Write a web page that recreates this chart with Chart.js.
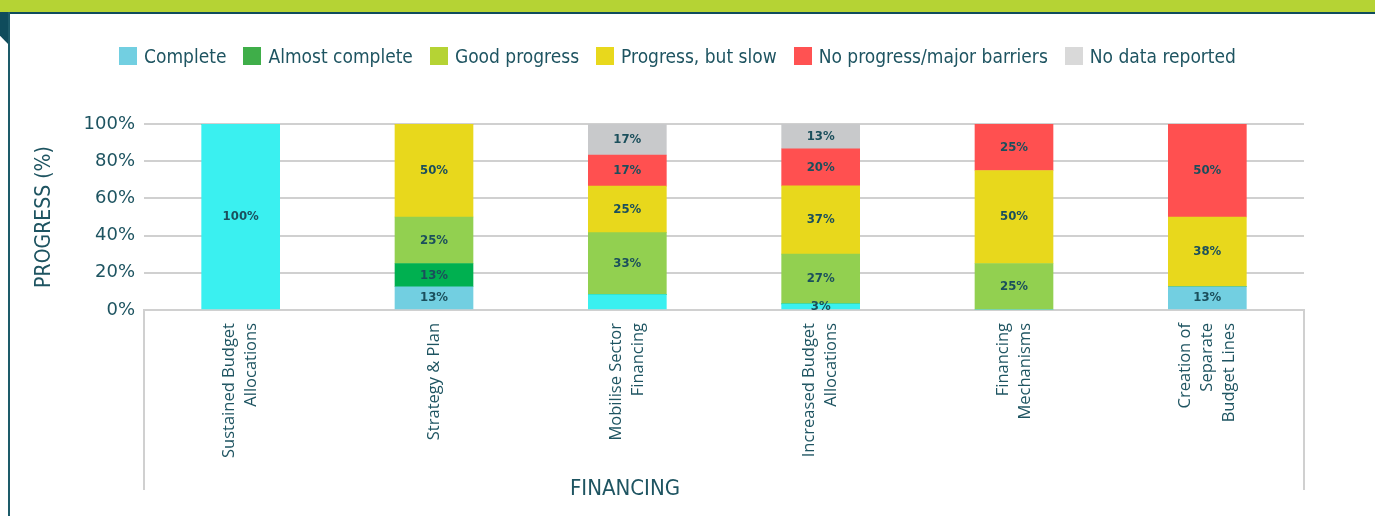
<!DOCTYPE html>
<html>
<head>
<meta charset="utf-8">
<script src="https://cdn.jsdelivr.net/npm/chart.js@4.4.0/dist/chart.umd.min.js"></script>
<style>
  html, body { margin: 0; padding: 0; background: #fff; }
  body { width: 1375px; height: 516px; position: relative; overflow: hidden; }
  .top-band { position: absolute; left: 0; top: 0; width: 100%; height: 12px; background: #b5d334; }
  .top-line { position: absolute; left: 0; top: 12px; width: 100%; height: 2px; background: #0f4c5c; }
  .side-tab { position: absolute; left: 0; top: 12px; width: 10px; height: 34px; background: #0f4c5c;
              clip-path: polygon(0 0, 100% 0, 100% 100%, 0 70%); }
  .side-line { position: absolute; left: 8px; top: 12px; width: 2px; height: 504px; background: #1d5b69; }
  #chart { position: absolute; left: 0; top: 0; }
  #legend-container { position: absolute; left: -10px; top: 45px; width: 1375px; }
</style>
</head>
<body>
<div class="top-band"></div>
<div class="top-line"></div>
<div class="side-tab"></div>
<div class="side-line"></div>
<canvas id="chart" width="1375" height="516"></canvas>
<div id="legend-container"></div>
<script>
  // categories (multi-line labels)
  const categories = [
      ['Sustained Budget', 'Allocations'],
      ['Strategy & Plan'],
      ['Mobilise Sector', 'Financing'],
      ['Increased Budget', 'Allocations'],
      ['Financing', 'Mechanisms'],
      ['Creation of', 'Separate', 'Budget Lines']
  ];
  const groupTitle = 'FINANCING';

  // series values, % of actions
  const complete = [100, 12.5, 8.3, 3.3, 0, 12.5];
  const almostComplete = [0, 12.5, 0, 0, 0, 0];
  const goodProgress = [0, 25, 33.3, 26.7, 25, 0];
  const progressSlow = [0, 50, 25, 36.7, 50, 37.5];
  const noProgress = [0, 0, 16.7, 20, 25, 50];
  const noData = [0, 0, 16.7, 13.3, 0, 0];

  // segments without a value label: [dataset, category]
  const unlabelled = [[0, 2]];

  const seriesNames = ['Complete', 'Almost complete', 'Good progress', 'Progress, but slow', 'No progress/major barriers', 'No data reported'];
  const yTicks = [0, 20, 40, 60, 80, 100];

  const textColor = '#1e5461';
  const gridColor = '#d0d0d0';
  const legendColors = ['#72cfe1', '#3fae49', '#b5d334', '#e8d81c', '#ff5252', '#d9d9d9'];
  const completeColors = ['#3af0f0', '#72cfe1', '#3af0f0', '#3af0f0', '#3af0f0', '#72cfe1'];

  const getOrCreateLegendList = (id) => {
      const legendContainer = document.getElementById(id);
      let listContainer = legendContainer.querySelector('ul');
      if (!listContainer) {
          listContainer = document.createElement('ul');
          listContainer.style.display = 'flex';
          listContainer.style.flexDirection = 'row';
          listContainer.style.justifyContent = 'center';
          listContainer.style.gap = '17px';
          listContainer.style.listStyle = 'none';
          listContainer.style.margin = 0;
          listContainer.style.padding = 0;
          legendContainer.appendChild(listContainer);
      }
      return listContainer;
  };

  const htmlLegend = {
      id: 'htmlLegend',
      afterUpdate(chart, args, options) {
          const ul = getOrCreateLegendList(options.containerID);
          while (ul.firstChild) {
              ul.firstChild.remove();
          }
          seriesNames.forEach((name, i) => {
              const li = document.createElement('li');
              li.style.display = 'flex';
              li.style.alignItems = 'center';

              const boxSpan = document.createElement('span');
              boxSpan.style.background = legendColors[i];
              boxSpan.style.display = 'inline-block';
              boxSpan.style.width = '18px';
              boxSpan.style.height = '18px';
              boxSpan.style.marginRight = '7px';

              const p = document.createElement('p');
              p.style.margin = 0;
              p.style.padding = 0;
              p.style.whiteSpace = 'nowrap';
              p.style.color = textColor;
              p.style.font = '19px/22px "DejaVu Sans Condensed", "DejaVu Sans", sans-serif';
              p.appendChild(document.createTextNode(name));

              li.appendChild(boxSpan);
              li.appendChild(p);
              ul.appendChild(li);
          });
      }
  };

  // value labels in the middle of every segment
  const barLabels = {
      id: 'barLabels',
      afterDatasetsDraw(chart) {
          const ctx = chart.ctx;
          ctx.save();
          ctx.font = 'bold 13px "DejaVu Sans Condensed", "DejaVu Sans", sans-serif';
          ctx.fillStyle = '#1b4f5c';
          ctx.textAlign = 'center';
          ctx.textBaseline = 'middle';
          chart.data.datasets.forEach((ds, di) => {
              chart.getDatasetMeta(di).data.forEach((bar, i) => {
                  const v = ds.data[i];
                  if (!v || unlabelled.some(u => u[0] === di && u[1] === i)) return;
                  const {x, y, base} = bar.getProps(['x', 'y', 'base'], true);
                  ctx.fillText(Math.round(v) + '%', x, (y + base) / 2);
              });
          });
          ctx.restore();
      }
  };

  // rotated category labels (block centred on the bar), box round them + group name
  const groupBox = {
      id: 'groupBox',
      afterDraw(chart) {
          const {ctx, chartArea} = chart;
          const xScale = chart.scales.x;
          const lh = 22;
          ctx.save();
          ctx.font = '16.5px "Open Sans", sans-serif';
          ctx.fillStyle = textColor;
          ctx.textAlign = 'right';
          ctx.textBaseline = 'middle';
          categories.forEach((lines, i) => {
              const cx = xScale.getPixelForValue(i);
              lines.forEach((line, j) => {
                  ctx.save();
                  ctx.translate(cx + (j - (lines.length - 1) / 2) * lh, chartArea.bottom + 13);
                  ctx.rotate(-Math.PI / 2);
                  ctx.fillText(line, 0, 0);
                  ctx.restore();
              });
          });

          ctx.strokeStyle = gridColor;
          ctx.lineWidth = 2;
          ctx.beginPath();
          ctx.moveTo(chartArea.left, chartArea.bottom);
          ctx.lineTo(chartArea.left, 490);
          ctx.moveTo(chartArea.right, chartArea.bottom);
          ctx.lineTo(chartArea.right, 490);
          ctx.stroke();

          ctx.font = '22px "DejaVu Sans Condensed", "DejaVu Sans", sans-serif';
          ctx.textAlign = 'center';
          ctx.fillText(groupTitle, 625, 489);
          ctx.restore();
      }
  };

  const series = [complete, almostComplete, goodProgress, progressSlow, noProgress, noData];
  const barColors = [completeColors, '#00b050', '#92d050', '#e8d81c', '#ff5050', '#c8c9cb'];

  new Chart(document.getElementById('chart'), {
      type: 'bar',
      data: {
          labels: categories,
          datasets: series.map((data, i) => ({
              label: seriesNames[i],
              data: data,
              backgroundColor: barColors[i],
              borderWidth: 0,
              barThickness: 78
          }))
      },
      options: {
          responsive: false,
          animation: false,
          devicePixelRatio: 1,
          layout: {padding: {top: 124, right: 71, left: 0, bottom: 0}},
          plugins: {
              legend: {display: false},
              tooltip: {enabled: false},
              htmlLegend: {containerID: 'legend-container'}
          },
          scales: {
              x: {
                  stacked: true,
                  grid: {display: false, drawTicks: false},
                  border: {color: gridColor, width: 2},
                  ticks: {display: false},
                  afterFit: (scale) => { scale.height = 206; }
              },
              y: {
                  stacked: true,
                  min: 0,
                  max: 100,
                  afterBuildTicks: (scale) => { scale.ticks = yTicks.map(v => ({value: v})); },
                  ticks: {
                      color: textColor,
                      font: {family: '"DejaVu Sans", sans-serif', size: 18},
                      padding: 9,
                      callback: (v) => v + '%'
                  },
                  grid: {color: gridColor, lineWidth: 2, drawTicks: false},
                  border: {display: false},
                  title: {
                      display: true,
                      text: 'PROGRESS (%)',
                      color: textColor,
                      font: {family: '"DejaVu Sans Condensed", "DejaVu Sans", sans-serif', size: 21, lineHeight: 1.2},
                      padding: {top: 32, bottom: 0}
                  },
                  afterFit: (scale) => { scale.width = 144; }
              }
          }
      },
      plugins: [htmlLegend, barLabels, groupBox]
  });
</script>
</body>
</html>
